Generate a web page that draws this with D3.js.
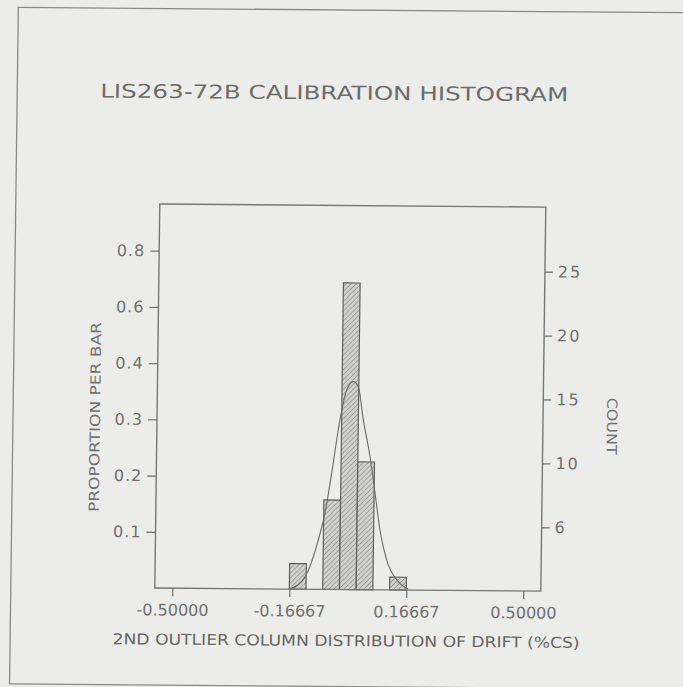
<!DOCTYPE html>
<html>
<head>
<meta charset="utf-8">
<script src="https://cdn.jsdelivr.net/npm/d3@7"></script>
<style>
  html, body { margin: 0; padding: 0; background: #ececea; }
  svg { display: block; }
  text { font-family: "DejaVu Sans", "Liberation Sans", sans-serif; }
</style>
</head>
<body>
<svg id="chart" width="683" height="687"></svg>
<script>
// Histogram bins (drift, %CS) and counts per bin
const binEdges = [-0.16667, -0.11905, -0.07143, -0.02381, 0.02381, 0.07143, 0.11905, 0.16667];
const binCounts = [2, 0, 7, 24, 10, 0, 1];
const totalCount = 44;

// Fitted normal curve, as proportion per bar
const curveX = [-0.165, -0.1225, -0.0858, -0.0678, -0.0502, -0.0285, -0.0105, 0.008, 0.0225, 0.0379, 0.0584, 0.0741, 0.0895, 0.1097, 0.1391, 0.1716];
const curveP = [0.000, 0.022, 0.088, 0.136, 0.207, 0.302, 0.355, 0.370, 0.361, 0.302, 0.237, 0.172, 0.106, 0.053, 0.018, 0.002];

// Axis ticks and their printed labels
const xTickValues = [-0.5, -0.16667, 0.16667, 0.5];
const xTickLabels = ["-0.50000", "-0.16667", "0.16667", "0.50000"];
const yTickValues = [0.1, 0.2, 0.3, 0.4, 0.5, 0.6];
const yTickLabels = ["0.1", "0.2", "0.3", "0.4", "0.6", "0.8"];
const countTickValues = [5, 10, 15, 20, 25];
const countTickLabels = ["6", "10", "15", "20", "25"];

const titleText = "LIS263-72B CALIBRATION HISTOGRAM";
const xTitle = "2ND OUTLIER COLUMN DISTRIBUTION OF DRIFT (%CS)";
const yTitle = "PROPORTION PER BAR";
const countTitle = "COUNT";

const ink = "#707070";
const svg = d3.select("#chart");

svg.append("rect").attr("width", 683).attr("height", 687).attr("fill", "#ececea");

const defs = svg.append("defs");
const hatch = defs.append("pattern")
  .attr("id", "hatch").attr("patternUnits", "userSpaceOnUse")
  .attr("width", 3.5).attr("height", 3.5)
  .attr("patternTransform", "rotate(45)");
hatch.append("rect").attr("width", 3.5).attr("height", 3.5).attr("fill", "#d0d0ce");
hatch.append("line").attr("x1", 0).attr("y1", 0).attr("x2", 0).attr("y2", 3.5)
  .attr("stroke", "#8a8a88").attr("stroke-width", 1.3);

// whole sheet is slightly sheared, as on the printed page
const page = svg.append("g")
  .attr("transform", "matrix(1,0.008,-0.013,1,4.459,-2.728)");

// outer page border
page.append("rect")
  .attr("x", 14).attr("y", 10).attr("width", 700).attr("height", 676.5)
  .attr("fill", "none").attr("stroke", "#8a8a88").attr("stroke-width", 1.3);

const plot = { left: 158, right: 544, top: 205.5, bottom: 589.5 };

const x = d3.scaleLinear().domain([-0.55, 0.55]).range([plot.left, plot.right]);
const y = d3.scaleLinear().domain([0, 0.683]).range([plot.bottom, plot.top]);
const yCount = d3.scaleLinear().domain([0, 0.683 * totalCount]).range([plot.bottom, plot.top]);

// title
page.append("text")
  .attr("x", 331).attr("y", 99.5).attr("text-anchor", "middle")
  .attr("font-size", 19).attr("fill", "#6c6c6c")
  .attr("textLength", 468).attr("lengthAdjust", "spacingAndGlyphs")
  .text(titleText);

// bars
const bars = binCounts.map((c, i) => ({ x0: binEdges[i], x1: binEdges[i + 1], count: c }))
  .filter(d => d.count > 0);

page.append("g").selectAll("rect").data(bars).join("rect")
  .attr("x", d => x(d.x0))
  .attr("width", d => x(d.x1) - x(d.x0))
  .attr("y", d => y(d.count / totalCount))
  .attr("height", d => y(0) - y(d.count / totalCount))
  .attr("fill", "url(#hatch)")
  .attr("stroke", "#5e5e5c").attr("stroke-width", 1.2);

// normal curve
const line = d3.line().x(d => x(d[0])).y(d => y(d[1])).curve(d3.curveMonotoneX);
page.append("path")
  .datum(curveX.map((v, i) => [v, curveP[i]]))
  .attr("d", line)
  .attr("fill", "none").attr("stroke", "#6a6a68").attr("stroke-width", 1.1);

// frame
page.append("rect")
  .attr("x", plot.left).attr("y", plot.top)
  .attr("width", plot.right - plot.left).attr("height", plot.bottom - plot.top)
  .attr("fill", "none").attr("stroke", "#777775").attr("stroke-width", 1.4);

function styleAxis(g) {
  g.select(".domain").remove();
  g.selectAll(".tick line").attr("stroke", "#777775").attr("stroke-width", 1.3);
  g.selectAll(".tick text").attr("fill", ink).attr("font-size", 16)
    .attr("font-family", "DejaVu Sans, sans-serif");
}

// left axis: proportion per bar
page.append("g")
  .attr("transform", `translate(${plot.left},0)`)
  .call(d3.axisLeft(y).tickValues(yTickValues)
    .tickFormat((d, i) => yTickLabels[i]).tickSize(9).tickPadding(5))
  .call(styleAxis)
  .call(g => g.selectAll(".tick text").attr("letter-spacing", 1));

// right axis: count
page.append("g")
  .attr("transform", `translate(${plot.right},0)`)
  .call(d3.axisRight(yCount).tickValues(countTickValues)
    .tickFormat((d, i) => countTickLabels[i]).tickSize(8).tickPadding(5))
  .call(styleAxis)
  .call(g => g.selectAll(".tick text").attr("letter-spacing", 2));

// bottom axis
page.append("g")
  .attr("transform", `translate(0,${plot.bottom})`)
  .call(d3.axisBottom(x).tickValues(xTickValues)
    .tickFormat((d, i) => xTickLabels[i]).tickSize(8).tickPadding(8))
  .call(styleAxis);

// axis titles
page.append("text")
  .attr("x", 350).attr("y", 646).attr("text-anchor", "middle")
  .attr("font-size", 15).attr("fill", "#666664")
  .attr("textLength", 467).attr("lengthAdjust", "spacingAndGlyphs")
  .text(xTitle);

page.append("text")
  .attr("transform", "translate(101,419) rotate(-90)")
  .attr("text-anchor", "middle").attr("font-size", 14).attr("fill", ink)
  .attr("textLength", 190).attr("lengthAdjust", "spacingAndGlyphs")
  .text(yTitle);

page.append("text")
  .attr("transform", "translate(608,424) rotate(90)")
  .attr("text-anchor", "middle").attr("font-size", 14).attr("fill", ink)
  .attr("textLength", 57).attr("lengthAdjust", "spacingAndGlyphs")
  .text(countTitle);
</script>
</body>
</html>
